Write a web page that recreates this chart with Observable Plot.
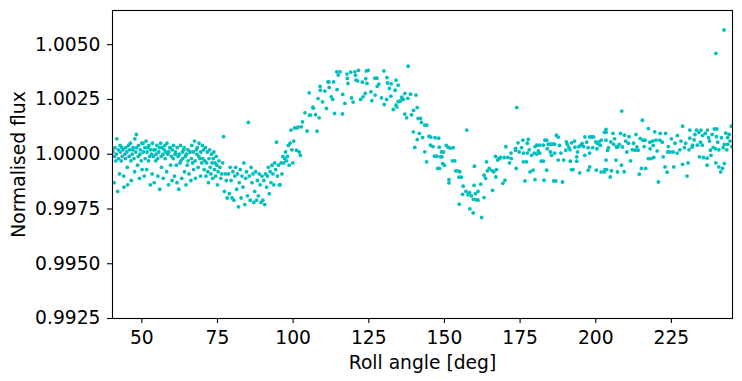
<!DOCTYPE html>
<html>
<head>
<meta charset="utf-8">
<script src="https://cdn.jsdelivr.net/npm/d3@7"></script>
<script src="https://cdn.jsdelivr.net/npm/@observablehq/plot@0.6"></script>
<style>
  html, body { margin: 0; padding: 0; background: #ffffff; }
  #chart svg { display: block; }
</style>
</head>
<body>
<div id="chart"></div>
<script>
// Roll angle [deg] of each exposure
const roll = [
  // 40-50
  40.3, 40.5, 40.8, 41.0, 41.1, 41.4, 41.6, 41.7, 42.0, 42.2,
  42.3, 42.6, 42.8, 42.9, 43.2, 43.4, 43.5, 43.8, 44.0, 44.1,
  44.4, 44.6, 44.7, 45.0, 45.2, 45.3, 45.6, 45.8, 45.9, 46.2,
  46.4, 46.5, 46.8, 47.0, 47.1, 47.4, 47.6, 47.7, 48.0, 48.2,
  48.3, 48.6, 48.8, 48.9, 49.2, 49.4, 49.5, 49.8, 50.0, 50.1,
  // 50-60
  50.4, 50.5, 50.8, 51.0, 51.1, 51.4, 51.6, 51.7, 52.0, 52.2,
  52.3, 52.6, 52.8, 52.9, 53.2, 53.4, 53.5, 53.8, 54.0, 54.1,
  54.4, 54.6, 54.7, 55.0, 55.2, 55.3, 55.6, 55.8, 55.9, 56.2,
  56.4, 56.5, 56.8, 57.0, 57.1, 57.4, 57.6, 57.7, 58.0, 58.2,
  58.3, 58.6, 58.8, 58.9, 59.2, 59.4, 59.5, 59.8, 60.0, 60.1,
  // 60-70
  60.4, 60.5, 60.8, 61.0, 61.1, 61.4, 61.6, 61.7, 62.0, 62.2,
  62.3, 62.6, 62.8, 62.9, 63.2, 63.4, 63.5, 63.8, 64.0, 64.1,
  64.4, 64.6, 64.7, 65.0, 65.2, 65.3, 65.6, 65.8, 65.9, 66.2,
  66.4, 66.5, 66.8, 67.0, 67.1, 67.4, 67.6, 67.7, 68.0, 68.2,
  68.3, 68.6, 68.8, 68.9, 69.2, 69.4, 69.5, 69.8, 70.0, 70.1,
  // 70-78
  70.4, 70.6, 70.8, 71.0, 71.2, 71.4, 71.6, 71.8, 72.0, 72.2,
  72.4, 72.6, 72.8, 73.0, 73.2, 73.4, 73.6, 73.8, 74.0, 74.2,
  74.4, 74.6, 74.8, 75.0, 75.2, 75.5, 75.8, 76.1, 76.4, 76.7,
  77.0, 77.3, 77.6, 77.9, 78.2,
  // 78-100 (first dip)
  78.6, 78.9, 79.2, 79.5, 79.8, 80.1, 80.4, 80.7, 81.0, 81.3,
  81.6, 81.9, 82.2, 82.5, 82.8, 83.1, 83.4, 83.7, 84.0, 84.3,
  84.6, 84.9, 85.2, 85.5, 85.8, 86.1, 86.4, 86.7, 87.0, 87.3,
  87.6, 87.9, 88.2, 88.5, 88.8, 89.1, 89.4, 89.7, 90.0, 90.3,
  90.6, 90.9, 91.2, 91.5, 91.8, 92.1, 92.4, 92.7, 93.0, 93.3,
  93.6, 93.9, 94.2, 94.5, 94.8, 95.1, 95.4, 95.7, 96.0, 96.3,
  96.6, 96.9, 97.2, 97.5, 97.8, 98.1, 98.4, 98.7, 99.0, 99.3,
  99.6, 99.9, 100.2, 100.5,
  // 100-135 (hump)
  101.1, 101.2, 101.6, 102.0, 102.4, 102.7, 103.1, 103.9, 104.6, 105.3,
  105.4, 105.7, 106.5, 106.7, 107.4, 107.9, 108.2, 108.6, 108.9, 109.0,
  109.7, 110.5, 111.0, 111.5, 111.8, 111.9, 112.6, 113.1, 113.4, 113.7,
  114.4, 114.5, 114.9, 115.5, 116.3, 116.4, 117.1, 117.8, 117.9, 118.1,
  119.0, 119.3, 119.8, 120.4, 120.6, 120.8, 121.3, 121.6, 122.3, 122.9,
  123.1, 123.8, 124.0, 124.2, 124.4, 124.8, 125.7, 126.0, 127.0, 127.1,
  127.7, 127.8, 128.3, 129.2, 130.0, 130.1, 130.9, 131.0, 131.2, 131.8,
  132.3, 132.4, 133.1, 133.7, 134.0, 134.0, 134.3, 134.7, 134.7, 135.4,
  135.5,
  // 135-154 (descent)
  135.9, 136.4, 136.9, 136.9, 137.5, 138.0, 137.9, 138.8, 139.1, 139.7,
  139.8, 140.2, 140.6, 141.0, 141.0, 141.3, 141.7, 142.1, 142.4, 142.8,
  143.5, 143.5, 144.1, 144.2, 144.9, 145.4, 145.5, 146.2, 146.7, 146.9,
  147.5, 147.8, 148.1, 148.3, 148.4, 148.7, 149.0, 149.2, 149.4, 149.7,
  150.0, 150.6, 151.2, 151.5, 151.5, 151.9, 152.6, 152.9, 153.4, 153.7,
  // 154-172 (second dip)
  154.4, 154.8, 154.9, 155.1, 155.6, 156.0, 156.2, 157.1, 157.4, 157.8,
  158.3, 158.4, 158.9, 159.5, 159.6, 159.8, 159.9, 160.2, 160.6, 161.1,
  161.1, 162.0, 162.3, 163.1, 163.1, 163.6, 163.9, 164.2, 164.8, 165.7,
  165.9, 166.3, 166.9, 167.0, 167.2, 167.6, 168.0, 168.6, 169.3, 170.0,
  170.3, 169.8, 171.0, 171.5, 172.0,
  // 172-207
  172.1, 173.5, 173.5, 173.7, 173.9, 174.3, 174.7, 175.9, 176.1, 176.1,
  176.6, 177.1, 177.4, 177.4, 177.7, 178.3, 178.8, 179.3, 179.7, 179.9,
  180.5, 180.5, 181.5, 181.5, 182.0, 182.7, 182.7, 182.9, 183.2, 183.8,
  183.8, 184.3, 184.8, 185.4, 185.4, 185.9, 186.1, 186.4, 186.4, 186.8,
  187.0, 187.6, 187.6, 189.0, 189.4, 190.1, 190.3, 191.1, 191.6, 192.0,
  192.0, 192.5, 193.1, 193.7, 193.7, 194.4, 194.7, 195.0, 195.5, 196.4,
  196.4, 197.5, 197.5, 198.0, 198.0, 198.0, 198.6, 199.3, 200.0, 200.2,
  200.6, 201.1, 201.8, 201.8, 202.9, 202.9, 203.0, 203.4, 203.4, 203.4,
  203.4, 203.6, 203.9, 204.8, 205.0, 205.2, 205.7, 205.9, 206.7,
  // 207-245
  206.8, 207.2, 207.3, 208.2, 208.5, 208.6, 208.8, 209.4, 209.5, 210.3,
  210.8, 211.5, 212.1, 213.0, 213.6, 214.0, 214.4, 214.7, 215.1, 215.4,
  215.6, 216.3, 216.5, 217.4, 217.4, 217.9, 218.3, 218.8, 219.2, 219.5,
  219.9, 220.7, 221.2, 221.3, 222.3, 222.9, 223.1, 223.6, 223.8, 224.6,
  225.6, 225.8, 226.9, 227.8, 228.7, 228.7, 229.3, 230.2, 230.5, 231.1,
  231.1, 231.8, 232.0, 232.8, 233.3, 233.6, 234.1, 234.3, 234.8, 235.2,
  235.3, 235.6, 236.8, 236.8, 236.9, 237.3, 237.9, 238.1, 238.8, 239.2,
  239.6, 239.7, 239.7, 239.9, 240.0, 240.7, 240.7, 241.3, 241.9, 242.1,
  242.4, 242.5, 242.5, 243.0, 243.6, 243.6, 244.1, 244.8, 245.0,
  // 175-245 (core of the plateau band)
  175.5, 178.0, 180.0, 181.0, 184.0, 185.0, 188.0, 188.5, 190.6, 191.5,
  193.0, 194.0, 196.0, 197.0, 199.0, 200.4, 201.5, 204.2, 206.2, 207.8,
  209.9, 211.0, 212.5, 213.3, 216.0, 218.0, 219.0, 220.3, 222.0, 224.0,
  225.0, 226.2, 227.0, 228.2, 229.7, 230.8, 232.5, 234.6, 236.2, 237.6,
  238.5, 240.3, 241.5, 243.3, 244.4
];

// Normalised flux of each exposure (same order as roll)
const flux = [
  // 40-50
  1.00020, 1.00010, 0.99870, 0.99990, 1.00030, 0.99970, 1.00000, 1.00070, 0.99830, 1.00020,
  0.99980, 0.99910, 1.00040, 1.00010, 0.99970, 1.00030, 0.99990, 1.00020, 0.99900, 0.99850,
  1.00000, 0.99980, 1.00030, 1.00010, 0.99940, 0.99860, 1.00040, 0.99990, 1.00020, 1.00050,
  0.99970, 0.99880, 1.00000, 1.00020, 1.00030, 0.99980, 0.99920, 1.00070, 1.00010, 1.00090,
  1.00030, 0.99950, 0.99990, 1.00040, 0.99890, 1.00000, 1.00020, 0.99970, 1.00050, 0.99930,
  // 50-60
  1.00050, 1.00010, 0.99900, 1.00030, 0.99980, 1.00060, 0.99930, 1.00010, 1.00030, 0.99970,
  1.00040, 0.99990, 0.99860, 1.00020, 1.00000, 0.99910, 1.00050, 0.99990, 1.00020, 0.99870,
  1.00020, 0.99970, 1.00000, 1.00040, 0.99980, 0.99900, 1.00010, 1.00030, 0.99840, 1.00050,
  0.99990, 0.99940, 1.00030, 1.00000, 0.99890, 1.00020, 1.00040, 0.99980, 1.00010, 0.99920,
  1.00050, 1.00000, 0.99860, 1.00010, 1.00030, 1.00030, 0.99950, 0.99990, 0.99880, 1.00020,
  // 60-70
  0.99980, 1.00040, 0.99900, 1.00000, 1.00010, 0.99950, 0.99870, 1.00030, 0.99990, 0.99840,
  1.00000, 0.99960, 1.00040, 0.99970, 0.99890, 1.00010, 0.99980, 1.00020, 1.00030, 0.99920,
  0.99990, 0.99860, 1.00000, 0.99950, 1.00020, 0.99970, 0.99910, 1.00010, 1.00010, 0.99880,
  0.99980, 1.00040, 0.99960, 1.00010, 0.99930, 1.00060, 0.99970, 0.99890, 1.00020, 1.00000,
  1.00030, 0.99940, 0.99990, 1.00050, 0.99980, 0.99900, 1.00010, 0.99960, 1.00040, 0.99980,
  // 70-78
  1.00020, 0.99930, 0.99970, 1.00030, 0.99900, 0.99960, 1.00010, 0.99920, 0.99870, 0.99980,
  1.00020, 0.99940, 0.99910, 1.00000, 0.99960, 0.99890, 0.99980, 1.00010, 0.99930, 0.99960,
  0.99900, 0.99990, 0.99950, 0.99860, 0.99920, 0.99970, 0.99940, 0.99890, 0.99910, 0.99960,
  1.00080, 0.99830, 0.99910, 0.99880, 0.99800,
  // 78-100 (first dip)
  0.99910, 0.99820, 0.99940, 0.99880, 0.99800, 0.99920, 0.99790, 0.99900, 0.99940, 0.99840,
  0.99910, 0.99760, 0.99870, 0.99930, 0.99800, 0.99900, 0.99850, 0.99960, 0.99770, 0.99890,
  0.99920, 0.99810, 1.00145, 0.99900, 0.99790, 0.99940, 0.99870, 0.99910, 0.99780, 0.99830,
  0.99920, 0.99790, 0.99880, 0.99810, 0.99910, 0.99860, 0.99780, 0.99900, 0.99790, 0.99880,
  0.99770, 0.99910, 0.99850, 0.99900, 0.99940, 0.99820, 0.99920, 0.99870, 0.99950, 0.99910,
  0.99860, 0.99960, 0.99930, 1.00055, 0.99900, 0.99950, 0.99860, 0.99860, 0.99960, 0.99910,
  0.99990, 0.99960, 0.99980, 1.00010, 0.99970, 0.99990, 1.00040, 0.99950, 1.00050, 1.00110,
  1.00020, 0.99960, 1.00060, 1.00120,
  // 100-135 (hump)
  1.00018, 1.00120, 1.00123, 1.00010, 0.99995, 1.00125, 1.00148, 1.00189, 1.00106, 1.00280,
  1.00178, 1.00178, 1.00215, 1.00210, 1.00180, 1.00105, 1.00254, 1.00166, 1.00310, 1.00292,
  1.00239, 1.00288, 1.00209, 1.00330, 1.00330, 1.00305, 1.00262, 1.00250, 1.00330, 1.00186,
  1.00376, 1.00295, 1.00361, 1.00376, 1.00184, 1.00273, 1.00232, 1.00366, 1.00346, 1.00323,
  1.00375, 1.00257, 1.00238, 1.00376, 1.00360, 1.00338, 1.00335, 1.00383, 1.00250, 1.00329,
  1.00262, 1.00277, 1.00345, 1.00380, 1.00323, 1.00383, 1.00285, 1.00245, 1.00347, 1.00270,
  1.00347, 1.00310, 1.00320, 1.00257, 1.00380, 1.00227, 1.00250, 1.00350, 1.00325, 1.00300,
  1.00265, 1.00322, 1.00204, 1.00292, 1.00224, 1.00338, 1.00216, 1.00315, 1.00240, 1.00242,
  1.00245,
  // 135-154 (descent)
  1.00260, 1.00250, 1.00277, 1.00183, 1.00166, 1.00402, 1.00255, 1.00274, 1.00180, 1.00102,
  1.00200, 1.00031, 1.00270, 1.00213, 1.00067, 1.00163, 1.00095, 1.00163, 1.00145, 1.00076,
  1.00133, 1.00011, 0.99965, 1.00133, 1.00082, 1.00041, 1.00078, 1.00035, 0.99991, 1.00075,
  0.99991, 0.99935, 1.00073, 1.00032, 0.99935, 0.99988, 1.00010, 0.99988, 0.99957, 1.00010,
  0.99950, 1.00040, 1.00032, 0.99884, 0.99869, 1.00028, 0.99970, 1.00030, 0.99970, 0.99924,
  // 154-172 (second dip)
  0.99924, 0.99895, 0.99772, 0.99920, 0.99895, 0.99817, 0.99854, 0.99830, 1.00110, 0.99815,
  0.99825, 0.99750, 0.99810, 0.99732, 0.99794, 0.99858, 0.99945, 0.99820, 0.99792, 0.99830,
  0.99790, 0.99863, 0.99711, 0.99802, 0.99904, 0.99890, 0.99965, 0.99924, 0.99935, 0.99925,
  0.99835, 0.99920, 0.99990, 0.99896, 0.99930, 0.99973, 0.99980, 0.99985, 0.99867, 0.99881,
  1.00034, 0.99985, 0.99985, 0.99960, 1.00005,
  // 172-207
  0.99980, 1.00027, 1.00018, 0.99935, 1.00213, 1.00052, 1.00010, 1.00064, 1.00005, 0.99965,
  0.99878, 0.99965, 1.00005, 1.00050, 1.00068, 0.99919, 0.99995, 0.99927, 1.00005, 0.99884,
  1.00041, 1.00000, 1.00005, 1.00041, 0.99968, 1.00041, 0.99968, 0.99881, 1.00064, 1.00064,
  0.99927, 1.00046, 1.00046, 0.99995, 1.00046, 1.00046, 0.99878, 1.00005, 1.00046, 0.99878,
  1.00087, 1.00078, 0.99973, 0.99873, 0.99973, 1.00018, 1.00056, 1.00032, 0.99968, 0.99930,
  1.00052, 0.99930, 1.00032, 0.99968, 0.99988, 1.00034, 0.99915, 1.00040, 1.00049, 1.00079,
  0.99995, 0.99927, 1.00030, 1.00005, 0.99942, 1.00079, 1.00079, 1.00079, 1.00056, 0.99927,
  1.00049, 1.00056, 1.00064, 0.99919, 0.99919, 1.00100, 0.99930, 1.00113, 1.00064, 1.00100,
  0.99973, 0.99930, 1.00018, 0.99896, 1.00056, 0.99925, 1.00095, 1.00046, 0.99973,
  // 207-245
  1.00033, 0.99919, 1.00033, 1.00095, 0.99950, 1.00197, 1.00033, 0.99920, 1.00087, 1.00010,
  1.00050, 0.99970, 1.00020, 1.00018, 1.00033, 1.00018, 0.99909, 1.00072, 0.99935, 1.00155,
  1.00064, 1.00064, 0.99935, 1.00117, 0.99980, 1.00055, 0.99980, 1.00060, 0.99985, 1.00102,
  1.00064, 0.99873, 1.00064, 1.00095, 0.99988, 0.99942, 1.00095, 0.99918, 1.00010, 1.00010,
  1.00010, 0.99942, 1.00005, 1.00020, 1.00128, 0.99954, 1.00030, 0.99900, 0.99960, 1.00073,
  1.00110, 1.00032, 1.00041, 1.00090, 1.00110, 1.00041, 1.00100, 0.99988, 1.00110, 1.00041,
  1.00085, 0.99985, 0.99982, 0.99950, 1.00110, 1.00075, 1.00018, 0.99995, 1.00031, 1.00115,
  1.00025, 0.99960, 1.00460, 1.00080, 1.00115, 0.99942, 1.00020, 0.99919, 0.99935, 1.00030,
  1.00567, 0.99957, 1.00045, 1.00096, 1.00045, 1.00076, 1.00090, 1.00128, 1.00035,
  // 175-245 (core of the plateau band)
  1.00030, 1.00020, 1.00035, 1.00015, 1.00025, 1.00010, 1.00040, 1.00005, 1.00045, 1.00020,
  1.00060, 1.00010, 1.00035, 1.00055, 1.00030, 1.00025, 1.00040, 1.00030, 1.00070, 1.00045,
  1.00060, 1.00080, 1.00050, 1.00090, 1.00035, 1.00025, 1.00040, 1.00015, 1.00055, 1.00035,
  1.00070, 1.00050, 1.00085, 1.00060, 1.00050, 1.00020, 1.00065, 1.00055, 1.00095, 1.00060,
  1.00090, 1.00055, 1.00075, 1.00020, 1.00060
];

// Axis tick values
const xTicks = [50, 75, 100, 125, 150, 175, 200, 225];
const yTicks = [0.9925, 0.9950, 0.9975, 1.0000, 1.0025, 1.0050];

const xLabel = "Roll angle [deg]";
const yLabel = "Normalised flux";

if (roll.length !== flux.length) console.error("length mismatch", roll.length, flux.length);

const data = roll.map((r, i) => ({roll: r, flux: flux[i]}));

const fmt4 = d3.format(".4f");

const chart = Plot.plot({
  width: 742,
  height: 381,
  marginLeft: 112,
  marginRight: 10,
  marginTop: 10,
  marginBottom: 63,
  style: {
    fontFamily: "'DejaVu Sans', sans-serif",
    fontSize: "18.7px",
    background: "#ffffff",
    color: "#000000"
  },
  x: {domain: [40.3, 245.2]},
  y: {domain: [0.9925, 1.00656]},
  marks: [
    Plot.dot(data, {x: "roll", y: "flux", r: 1.9, fill: "#00bfbf", stroke: "none", clip: true}),
    Plot.frame({stroke: "#000000", strokeWidth: 1.1}),
    Plot.axisX({
      ticks: xTicks, tickSize: 5, tickPadding: 7, tickFormat: d => String(d),
      label: xLabel, labelAnchor: "center", labelOffset: 50, labelArrow: "none",
      strokeWidth: 1.1
    }),
    Plot.axisY({
      ticks: yTicks, tickSize: 5, tickPadding: 7, tickFormat: fmt4,
      label: yLabel, labelAnchor: "center", labelOffset: 101, labelArrow: "none",
      strokeWidth: 1.1
    })
  ]
});

document.getElementById("chart").appendChild(chart);
</script>
</body>
</html>
